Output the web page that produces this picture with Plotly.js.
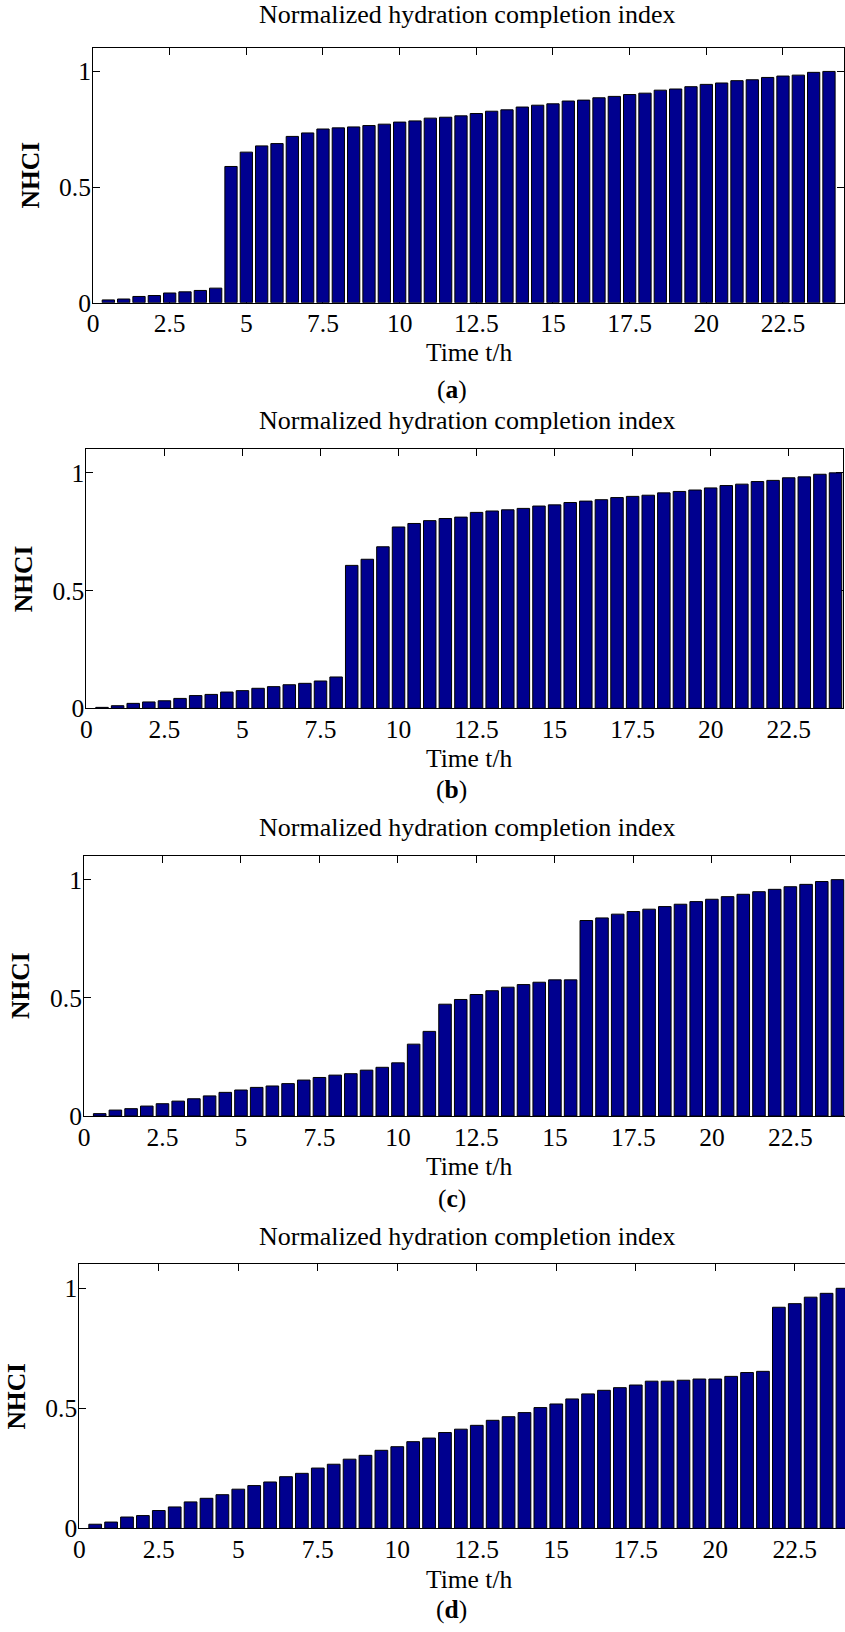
<!DOCTYPE html>
<html>
<head>
<meta charset="utf-8">
<script src="https://cdn.plot.ly/plotly-3.0.1.min.js"></script>
<style>
  html, body { margin: 0; padding: 0; background: #ffffff; }
  #chart { width: 845px; height: 1632px; }
</style>
</head>
<body>
<div id="chart"></div>
<script>
// ---- data ----
const timeH = [0.5, 1, 1.5, 2, 2.5, 3, 3.5, 4, 4.5, 5, 5.5, 6, 6.5, 7, 7.5, 8,
  8.5, 9, 9.5, 10, 10.5, 11, 11.5, 12, 12.5, 13, 13.5, 14, 14.5, 15, 15.5, 16,
  16.5, 17, 17.5, 18, 18.5, 19, 19.5, 20, 20.5, 21, 21.5, 22, 22.5, 23, 23.5, 24];

const nhciA = [0.012, 0.016, 0.027, 0.031, 0.042, 0.047, 0.053, 0.063,
  0.589, 0.651, 0.678, 0.688, 0.719, 0.734, 0.751, 0.756, 0.760, 0.766, 0.772, 0.781,
  0.786, 0.798, 0.802, 0.808, 0.818, 0.828, 0.834, 0.846, 0.854, 0.860, 0.872, 0.876,
  0.886, 0.892, 0.900, 0.906, 0.919, 0.924, 0.934, 0.944, 0.950, 0.960, 0.964, 0.974,
  0.980, 0.984, 0.996, 1.000];

const nhciB = [0.004, 0.011, 0.021, 0.027, 0.032, 0.042, 0.054, 0.059, 0.069, 0.075,
  0.085, 0.092, 0.100, 0.106, 0.116, 0.133,
  0.607, 0.633, 0.686, 0.770, 0.785, 0.797, 0.806, 0.812, 0.832, 0.838, 0.843, 0.849,
  0.859, 0.864, 0.874, 0.880, 0.886, 0.895, 0.900, 0.905, 0.915, 0.921, 0.927, 0.936,
  0.946, 0.952, 0.963, 0.968, 0.979, 0.983, 0.994, 1.000];

const nhciC = [0.010, 0.025, 0.031, 0.042, 0.052, 0.063, 0.073, 0.085, 0.100, 0.110,
  0.121, 0.127, 0.137, 0.152, 0.163, 0.173, 0.179, 0.194, 0.206, 0.225,
  0.304, 0.358, 0.473, 0.493, 0.514, 0.530, 0.545, 0.556, 0.566, 0.576, 0.576,
  0.827, 0.838, 0.854, 0.865, 0.875, 0.886, 0.896, 0.907, 0.917, 0.928, 0.938, 0.949,
  0.959, 0.970, 0.980, 0.992, 1.000];

const nhciD = [0.017, 0.026, 0.047, 0.053, 0.074, 0.089, 0.110, 0.125, 0.140, 0.163,
  0.178, 0.193, 0.215, 0.229, 0.251, 0.267, 0.288, 0.304, 0.325, 0.340,
  0.361, 0.376, 0.399, 0.413, 0.429, 0.450, 0.465, 0.482, 0.503, 0.518,
  0.539, 0.560, 0.575, 0.586, 0.597, 0.613, 0.613, 0.617, 0.622, 0.622,
  0.633, 0.649, 0.654, 0.921, 0.936, 0.963, 0.979, 1.000];

const panelLetters = ['a', 'b', 'c', 'd'];
const chartTitle = 'Normalized hydration completion index';
const xAxisLabel = 'Time t/h';
const yAxisLabel = 'NHCI';

const xTickVals = [0, 2.5, 5, 7.5, 10, 12.5, 15, 17.5, 20, 22.5];
const xTickText = ['0', '2.5', '5', '7.5', '10', '12.5', '15', '17.5', '20', '22.5'];
const yTickVals = [0, 0.5, 1];
const yTickText = ['0', '0.5', '1'];

// ---- layout geometry (pixels) ----
const W = 845, H = 1632;
const FONT = 'Liberation Serif, Times New Roman, serif';
const BAR_COLOR = '#00008F';

const panels = [
  { l: 93.0, r: 844.0, t: 48.3,   b: 302.7,  xmax: 24.49, right: true,  titleBase: 22.7, labelBase: 361.0,  letterBase: 398.3 },
  { l: 86.4, r: 843.0, t: 449.3,  b: 708.3,  xmax: 24.24, right: true,  titleBase: 429.3, labelBase: 766.7, letterBase: 798.3 },
  { l: 84.0, r: 845.0, t: 856.0,  b: 1116.0, xmax: 24.24, right: false, titleBase: 836.0, labelBase: 1175.0, letterBase: 1206.7 },
  { l: 79.3, r: 845.0, t: 1264.3, b: 1528.3, xmax: 24.08, right: false, titleBase: 1245.0, labelBase: 1588.3, letterBase: 1618.3 }
];
const series = [nhciA, nhciB, nhciC, nhciD];

const px2x = p => p / W;
const px2y = p => 1 - p / H;
const FS = 25.5;
const FS_TITLE = 26;
const midFromBase = (base, fs) => base - 0.33 * fs;

const data = [];
const layout = {
  width: W, height: H,
  margin: { l: 0, r: 0, t: 0, b: 0, pad: 0 },
  paper_bgcolor: '#ffffff',
  plot_bgcolor: '#ffffff',
  showlegend: false,
  font: { family: FONT, size: FS, color: '#000000' },
  annotations: []
};

panels.forEach((p, i) => {
  const k = i === 0 ? '' : String(i + 1);
  data.push({
    type: 'bar',
    x: timeH,
    y: series[i],
    width: 0.4,
    xaxis: 'x' + k,
    yaxis: 'y' + k,
    marker: { color: BAR_COLOR, line: { color: '#000000', width: 1 } },
    hoverinfo: 'skip'
  });

  layout['xaxis' + k] = {
    domain: [px2x(p.l), px2x(p.r)],
    anchor: 'y' + k,
    range: [0, p.xmax],
    tickmode: 'array',
    tickvals: xTickVals,
    ticktext: xTickText,
    ticks: 'inside',
    ticklen: 7,
    tickwidth: 1,
    tickcolor: '#000000',
    showline: true,
    linecolor: '#000000',
    linewidth: 1,
    mirror: 'ticks',
    showgrid: false,
    zeroline: false,
    layer: 'below traces',
    ticklabelstandoff: -2,
    tickfont: { family: FONT, size: FS, color: '#000000' },
    fixedrange: true
  };
  layout['yaxis' + k] = {
    domain: [px2y(p.b), px2y(p.t)],
    anchor: 'x' + k,
    range: [0, 1.1],
    tickmode: 'array',
    tickvals: yTickVals,
    ticktext: yTickText,
    ticks: 'inside',
    ticklen: 7,
    tickwidth: 1,
    tickcolor: '#000000',
    showline: true,
    linecolor: '#000000',
    linewidth: 1,
    mirror: p.right ? 'ticks' : false,
    showgrid: false,
    zeroline: false,
    layer: 'below traces',
    ticklabelstandoff: -4,
    tickfont: { family: FONT, size: FS, color: '#000000' },
    fixedrange: true
  };

  layout.annotations.push({
    text: chartTitle, xref: 'paper', yref: 'paper',
    x: px2x(467.8), y: px2y(midFromBase(p.titleBase, FS_TITLE)),
    xanchor: 'center', yanchor: 'middle', showarrow: false,
    font: { family: FONT, size: FS_TITLE, color: '#000000' }
  });
  layout.annotations.push({
    text: xAxisLabel, xref: 'paper', yref: 'paper',
    x: px2x(468.5), y: px2y(midFromBase(p.labelBase, FS)),
    xanchor: 'center', yanchor: 'middle', showarrow: false,
    font: { family: FONT, size: FS, color: '#000000' }
  });
  layout.annotations.push({
    text: yAxisLabel, xref: 'paper', yref: 'paper',
    x: px2x(p.l - 63), y: px2y((p.t + p.b) / 2),
    xanchor: 'center', yanchor: 'middle', showarrow: false, textangle: -90,
    font: { family: FONT, size: FS, color: '#000000', weight: 'bold' }
  });
  layout.annotations.push({
    text: '(<b>' + panelLetters[i] + '</b>)', xref: 'paper', yref: 'paper',
    x: px2x(451.5), y: px2y(midFromBase(p.letterBase, FS)),
    xanchor: 'center', yanchor: 'middle', showarrow: false,
    font: { family: FONT, size: FS, color: '#000000' }
  });
});

Plotly.newPlot('chart', data, layout, { staticPlot: true, displayModeBar: false });
</script>
</body>
</html>
